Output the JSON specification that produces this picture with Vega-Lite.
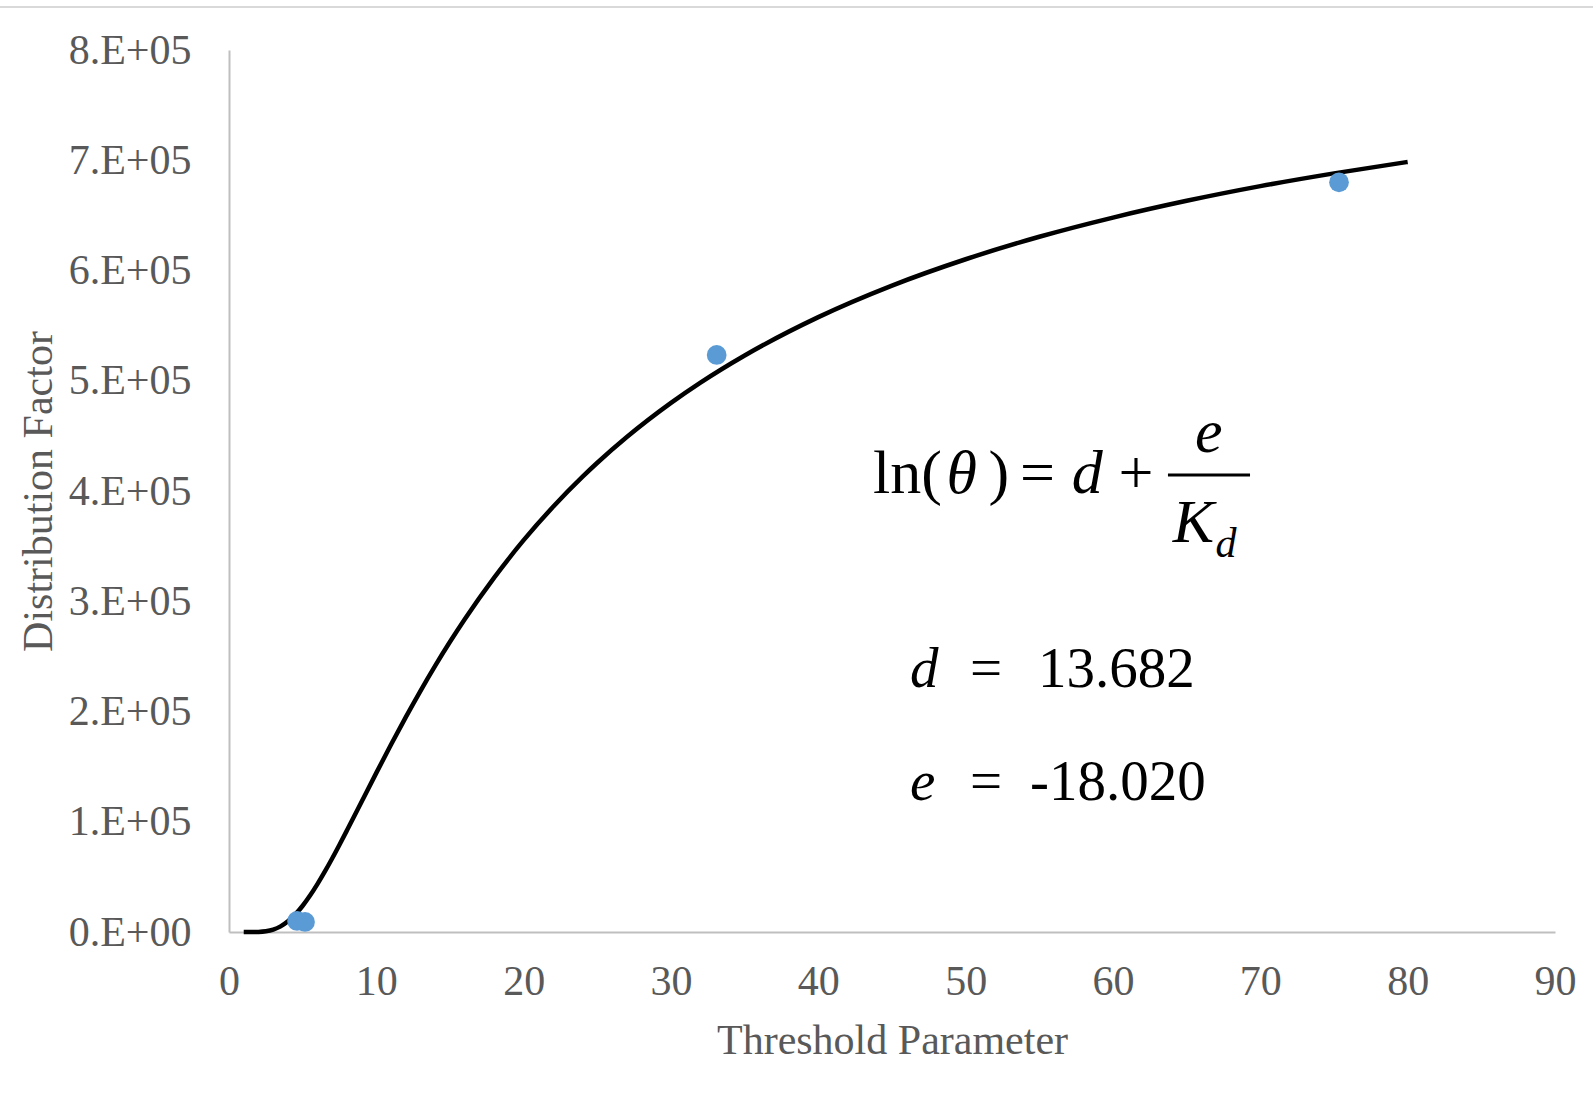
{
  "$schema": "https://vega.github.io/schema/vega-lite/v6.json",
  "width": 1326,
  "height": 882,
  "autosize": {"type": "none"},
  "padding": {"left": 229, "top": 50, "right": 38, "bottom": 170},
  "background": "white",
  "config": {
    "view": {"stroke": null},
    "font": "Liberation Serif",
    "axis": {
      "grid": false,
      "ticks": false,
      "domainColor": "#bfbfbf",
      "domainWidth": 2,
      "labelFont": "Liberation Serif",
      "labelFontSize": 42,
      "labelColor": "#595959",
      "titleFont": "Liberation Serif",
      "titleFontSize": 42,
      "titleFontWeight": "normal",
      "titleColor": "#595959"
    }
  },
  "layer": [
    {
      "data": {"values": [{"x": -15.6, "x2": 92.6, "y": 839000}]},
      "mark": {"type": "rule", "color": "#d9d9d9", "strokeWidth": 2, "clip": false},
      "encoding": {
        "x": {"field": "x", "type": "quantitative"},
        "x2": {"field": "x2"},
        "y": {"field": "y", "type": "quantitative"}
      }
    },
    {
      "data": {"values": [
        {"K": 1, "theta": 0},
        {"K": 1.5, "theta": 5},
        {"K": 2, "theta": 107},
        {"K": 2.5, "theta": 648},
        {"K": 3, "theta": 2155},
        {"K": 3.5, "theta": 5078},
        {"K": 4, "theta": 9672},
        {"K": 4.5, "theta": 15950},
        {"K": 5, "theta": 23810},
        {"K": 5.5, "theta": 33030},
        {"K": 6, "theta": 43420},
        {"K": 6.5, "theta": 54700},
        {"K": 7, "theta": 66680},
        {"K": 7.5, "theta": 79170},
        {"K": 8, "theta": 92000},
        {"K": 9, "theta": 118170},
        {"K": 10, "theta": 144350},
        {"K": 11, "theta": 170040},
        {"K": 12, "theta": 194900},
        {"K": 13, "theta": 218780},
        {"K": 14, "theta": 241600},
        {"K": 15, "theta": 263210},
        {"K": 16, "theta": 283700},
        {"K": 18, "theta": 321500},
        {"K": 20, "theta": 355400},
        {"K": 22, "theta": 385720},
        {"K": 24, "theta": 413000},
        {"K": 25, "theta": 425600},
        {"K": 27, "theta": 448920},
        {"K": 30, "theta": 479900},
        {"K": 32, "theta": 498290},
        {"K": 35, "theta": 522900},
        {"K": 40, "theta": 557700},
        {"K": 45, "theta": 586300},
        {"K": 50, "theta": 610200},
        {"K": 55, "theta": 630600},
        {"K": 60, "theta": 648000},
        {"K": 65, "theta": 663200},
        {"K": 70, "theta": 676500},
        {"K": 75, "theta": 688100},
        {"K": 80, "theta": 698500}
      ]},
      "mark": {"type": "line", "color": "black", "strokeWidth": 4.5, "interpolate": "monotone"},
      "encoding": {
        "x": {
          "field": "K", "type": "quantitative",
          "scale": {"domain": [0, 90], "nice": false},
          "axis": {"values": [0, 10, 20, 30, 40, 50, 60, 70, 80, 90], "labelPadding": 29, "title": "Threshold Parameter", "titlePadding": 18, "labelFlush": false}
        },
        "y": {
          "field": "theta", "type": "quantitative",
          "scale": {"domain": [0, 800000], "nice": false},
          "axis": {
            "values": [0, 100000, 200000, 300000, 400000, 500000, 600000, 700000, 800000],
            "labelExpr": "datum.value == 0 ? '0.E+00' : (datum.value / 100000) + '.E+05'",
            "labelPadding": 38,
            "title": "Distribution Factor",
            "titlePadding": 8,
            "labelFlush": false
          }
        }
      }
    },
    {
      "data": {"values": [
        {"K": 4.62, "theta": 10000},
        {"K": 5.16, "theta": 9100},
        {"K": 33.1, "theta": 523400},
        {"K": 75.34, "theta": 680000}
      ]},
      "mark": {"type": "circle", "color": "#5b9bd5", "opacity": 1, "size": 390},
      "encoding": {
        "x": {"field": "K", "type": "quantitative"},
        "y": {"field": "theta", "type": "quantitative"}
      }
    },
    {
      "data": {"values": [
        {"x": 43.71, "y": 398000, "t": "ln("},
        {"x": 51.55, "y": 398000, "t": ")"},
        {"x": 53.69, "y": 398000, "t": "="},
        {"x": 60.37, "y": 398000, "t": "+"}
      ]},
      "mark": {"type": "text", "align": "left", "baseline": "alphabetic", "fontSize": 62, "color": "black", "font": "Liberation Serif"},
      "encoding": {
        "x": {"field": "x", "type": "quantitative"},
        "y": {"field": "y", "type": "quantitative"},
        "text": {"field": "t"}
      }
    },
    {
      "data": {"values": [
        {"x": 48.7, "y": 398000, "t": "θ"},
        {"x": 57.2, "y": 398000, "t": "d"},
        {"x": 65.57, "y": 435400, "t": "e"},
        {"x": 64.05, "y": 353700, "t": "K"}
      ]},
      "mark": {"type": "text", "align": "left", "baseline": "alphabetic", "fontSize": 62, "fontStyle": "italic", "color": "black", "font": "Liberation Serif"},
      "encoding": {
        "x": {"field": "x", "type": "quantitative"},
        "y": {"field": "y", "type": "quantitative"},
        "text": {"field": "t"}
      }
    },
    {
      "data": {"values": [
        {"x": 66.95, "y": 340100, "t": "d"}
      ]},
      "mark": {"type": "text", "align": "left", "baseline": "alphabetic", "fontSize": 42, "fontStyle": "italic", "color": "black", "font": "Liberation Serif"},
      "encoding": {
        "x": {"field": "x", "type": "quantitative"},
        "y": {"field": "y", "type": "quantitative"},
        "text": {"field": "t"}
      }
    },
    {
      "data": {"values": [{"x": 63.73, "x2": 69.3, "y": 414500}]},
      "mark": {"type": "rule", "color": "black", "strokeWidth": 3},
      "encoding": {
        "x": {"field": "x", "type": "quantitative"},
        "x2": {"field": "x2"},
        "y": {"field": "y", "type": "quantitative"}
      }
    },
    {
      "data": {"values": [
        {"x": 46.22, "y": 222200, "t": "d"},
        {"x": 46.22, "y": 119700, "t": "e"}
      ]},
      "mark": {"type": "text", "align": "left", "baseline": "alphabetic", "fontSize": 57, "fontStyle": "italic", "color": "black", "font": "Liberation Serif"},
      "encoding": {
        "x": {"field": "x", "type": "quantitative"},
        "y": {"field": "y", "type": "quantitative"},
        "text": {"field": "t"}
      }
    },
    {
      "data": {"values": [
        {"x": 50.29, "y": 222200, "t": "="},
        {"x": 54.91, "y": 222200, "t": "13.682"},
        {"x": 50.29, "y": 119700, "t": "="},
        {"x": 54.37, "y": 119700, "t": "-18.020"}
      ]},
      "mark": {"type": "text", "align": "left", "baseline": "alphabetic", "fontSize": 57, "color": "black", "font": "Liberation Serif"},
      "encoding": {
        "x": {"field": "x", "type": "quantitative"},
        "y": {"field": "y", "type": "quantitative"},
        "text": {"field": "t"}
      }
    }
  ]
}
